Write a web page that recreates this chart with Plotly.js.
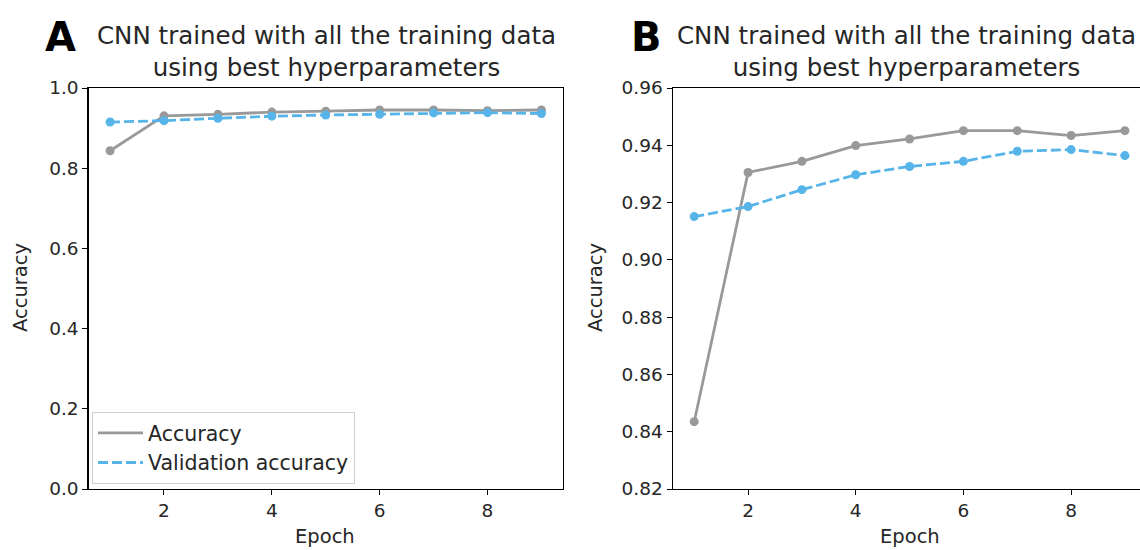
<!DOCTYPE html>
<html>
<head>
<meta charset="utf-8">
<script src="https://cdn.plot.ly/plotly-3.0.1.min.js"></script>
<style>html,body{margin:0;padding:0;background:#fff;}#chart{width:1140px;height:550px;}</style>
</head>
<body>
<div id="chart"></div>
<script>
const epochs = [1, 2, 3, 4, 5, 6, 7, 8, 9];
const accuracy = [0.8435, 0.9305, 0.9344, 0.9399, 0.9422, 0.9451, 0.9451, 0.9434, 0.9451];
const valAccuracy = [0.9151, 0.9186, 0.9245, 0.9297, 0.9326, 0.9344, 0.9379, 0.9385, 0.9364];
const panelLabels = ['A', 'B'];
const titleText = 'CNN trained with all the training data<br>using best hyperparameters';
const xTitle = 'Epoch';
const yTitle = 'Accuracy';
const seriesNames = ['Accuracy', 'Validation accuracy'];

const grey = '#999999';
const blue = '#56B4E9';
const font = 'DejaVu Sans, sans-serif';
const txt = '#262626';
const dashPat = '10px,4px';

function accTrace(xa, ya) {
  return {x: epochs, y: accuracy, xaxis: xa, yaxis: ya, type: 'scatter', mode: 'lines+markers',
    name: seriesNames[0], showlegend: false,
    line: {color: grey, width: 2.8}, marker: {color: grey, size: 9}};
}
function valTrace(xa, ya) {
  return {x: epochs, y: valAccuracy, xaxis: xa, yaxis: ya, type: 'scatter', mode: 'lines+markers',
    name: seriesNames[1], showlegend: false,
    line: {color: blue, width: 2.8, dash: dashPat}, marker: {color: blue, size: 9}};
}
// legend-only entries (line samples without markers, as in the reference)
const legAcc = {x: [null], y: [null], xaxis: 'x', yaxis: 'y', type: 'scatter', mode: 'lines',
  name: seriesNames[0], line: {color: grey, width: 2.8}};
const legVal = {x: [null], y: [null], xaxis: 'x', yaxis: 'y', type: 'scatter', mode: 'lines',
  name: seriesNames[1], line: {color: blue, width: 2.8, dash: dashPat}};

const data = [accTrace('x', 'y'), valTrace('x', 'y'), accTrace('x2', 'y2'), valTrace('x2', 'y2'), legAcc, legVal];

const yDom = [0.1109, 0.84];
function xAx(dom, anchor, range) {
  return {domain: dom, anchor: anchor, range: range, tickvals: [2, 4, 6, 8],
    showline: true, linecolor: '#000', linewidth: 1.2, mirror: true, ticks: 'outside', ticklen: 5, tickcolor: '#000',
    showgrid: false, zeroline: false, tickfont: {family: font, size: 18.5, color: txt}};
}
function yAx(range, dtick, fmt, anchor) {
  return {domain: yDom, anchor: anchor, range: range, dtick: dtick, tick0: range[0], tickformat: fmt,
    showline: true, linecolor: '#000', linewidth: 1.2, mirror: true, ticks: 'outside', ticklen: 5, tickcolor: '#000',
    showgrid: false, zeroline: false, tickfont: {family: font, size: 18.5, color: txt}};
}

function ann(text, x, y, size, extra) {
  return Object.assign({text: text, x: x / 1140, y: 1 - y / 550, xref: 'paper', yref: 'paper',
    xanchor: 'center', yanchor: 'middle', showarrow: false, font: {family: font, size: size, color: txt}}, extra || {});
}

const layout = {
  width: 1140, height: 550,
  margin: {l: 0, r: 0, t: 0, b: 0},
  paper_bgcolor: '#fff', plot_bgcolor: '#fff',
  xaxis: xAx([88.5 / 1140, 563 / 1140], 'y', [0.6, 9.4]),
  yaxis: yAx([0, 1], 0.2, '.1f', 'x'),
  xaxis2: xAx([672.7 / 1140, 1], 'y2', [0.6, 9.28]),
  yaxis2: yAx([0.82, 0.96], 0.02, '.2f', 'x2'),
  showlegend: true,
  legend: {x: 92 / 1140, y: 1 - 412 / 550, xanchor: 'left', yanchor: 'top', bgcolor: 'rgba(255,255,255,0.8)',
    bordercolor: '#d0d0d0', borderwidth: 1, font: {family: font, size: 20.5, color: txt}, itemwidth: 45, tracegroupgap: 0},
  annotations: [
    ann(titleText, 326, 52, 24.5),
    ann(titleText, 906, 52, 24.5),
    ann('<b>' + panelLabels[0] + '</b>', 60, 37, 40, {font: {family: font, size: 40, color: '#000'}}),
    ann('<b>' + panelLabels[1] + '</b>', 646, 37, 40, {font: {family: font, size: 40, color: '#000'}}),
    ann(xTitle, 325, 536, 19.5),
    ann(xTitle, 910, 536, 19.5),
    ann(yTitle, 20, 288, 19.5, {textangle: -90}),
    ann(yTitle, 595, 288, 19.5, {textangle: -90})
  ]
};

Plotly.newPlot('chart', data, layout, {staticPlot: true, displayModeBar: false});
</script>
</body>
</html>
